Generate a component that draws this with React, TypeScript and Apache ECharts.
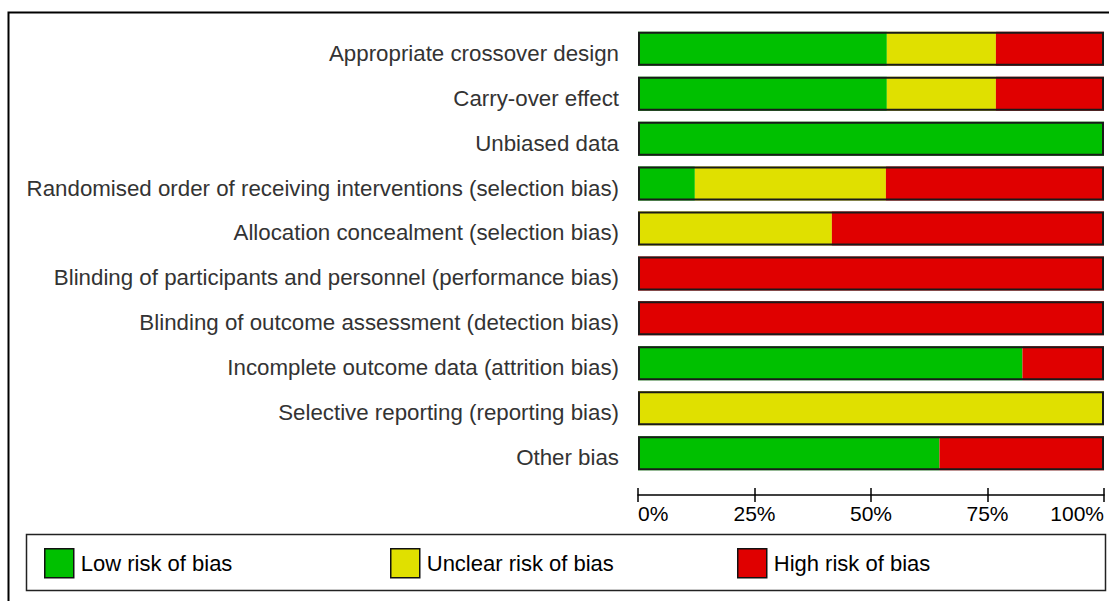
import React, { useEffect, useRef } from "react";
import * as echarts from "echarts";

const categories: string[] = [
  "Appropriate crossover design",
  "Carry-over effect",
  "Unbiased data",
  "Randomised order of receiving interventions (selection bias)",
  "Allocation concealment (selection bias)",
  "Blinding of participants and personnel (performance bias)",
  "Blinding of outcome assessment (detection bias)",
  "Incomplete outcome data (attrition bias)",
  "Selective reporting (reporting bias)",
  "Other bias",
];

const lowRisk: number[] = [53.4, 53.4, 100, 12.2, 0, 0, 0, 82.5, 0, 64.7];
const unclearRisk: number[] = [23.4, 23.4, 0, 41.0, 41.6, 0, 0, 0, 100, 0];
const highRisk: number[] = [23.2, 23.2, 0, 46.8, 58.4, 100, 100, 17.5, 0, 35.3];

const xTicks: number[] = [0, 25, 50, 75, 100];

const seriesNames = ["Low risk of bias", "Unclear risk of bias", "High risk of bias"];
const seriesColors = ["#00C000", "#E0E000", "#E00000"];

const FONT = '"Liberation Sans", Arial, sans-serif';

export default function App() {
  const ref = useRef<HTMLDivElement>(null);

  useEffect(() => {
    if (!ref.current) return;
    const chart = echarts.init(ref.current, undefined, { renderer: "svg" });
    const totals = lowRisk.map((v, i) => v + unclearRisk[i] + highRisk[i]);
    const seriesData = [lowRisk, unclearRisk, highRisk];

    const legendLefts = [44, 390, 737];

    const option: any = {
      animation: false,
      backgroundColor: "#ffffff",
      grid: { left: 638, right: 5, top: 26.3, bottom: 125.4, containLabel: false },
      xAxis: [
        {
          type: "value",
          min: xTicks[0],
          max: xTicks[xTicks.length - 1],
          interval: 25,
          position: "bottom",
          offset: 19.5,
          axisLine: { show: true, lineStyle: { color: "#000", width: 1.5 } },
          axisTick: { show: true, length: 7, lineStyle: { color: "#000", width: 1.5 } },
          axisLabel: {
            formatter: "{value}%",
            fontSize: 21,
            fontFamily: FONT,
            color: "#000",
            margin: 8,
            alignMinLabel: "left",
            alignMaxLabel: "right",
          },
          splitLine: { show: false },
        },
        {
          type: "value",
          min: xTicks[0],
          max: xTicks[xTicks.length - 1],
          interval: 25,
          position: "bottom",
          offset: 19.5,
          axisLine: { show: false },
          axisTick: { show: true, inside: true, length: 7, lineStyle: { color: "#000", width: 1.5 } },
          axisLabel: { show: false },
          splitLine: { show: false },
        },
      ],
      yAxis: {
        type: "category",
        data: categories,
        inverse: true,
        axisLine: { show: false },
        axisTick: { show: false },
        axisLabel: {
          fontSize: 22.3,
          fontFamily: FONT,
          color: "#333",
          margin: 19,
          verticalAlign: "top",
          lineHeight: 9,
        },
        splitLine: { show: false },
      },
      legend: seriesNames.map((name, i) => ({
        data: [name],
        left: legendLefts[i],
        top: 548,
        padding: 0,
        itemWidth: 29,
        itemHeight: 29,
        icon: "rect",
        itemStyle: { borderColor: "#111", borderWidth: 1.5 },
        textStyle: { fontSize: 22, fontFamily: FONT, color: "#000", padding: [0, 0, 0, 2] },
        selectedMode: false,
      })),
      graphic: [
        {
          type: "rect",
          shape: { x: 8.5, y: 12.5, width: 1200, height: 700 },
          style: { fill: "none", stroke: "#000", lineWidth: 2 },
          silent: true,
        },
        {
          type: "rect",
          shape: { x: 26.5, y: 534.5, width: 1079, height: 56 },
          style: { fill: "none", stroke: "#222", lineWidth: 1.5 },
          silent: true,
        },
      ],
      series: [
        ...seriesNames.map((name, i) => ({
          name,
          type: "bar",
          stack: "total",
          barWidth: 34,
          data: seriesData[i],
          itemStyle: { color: seriesColors[i] },
          silent: true,
        })),
        {
          name: "outline",
          type: "bar",
          barWidth: 34,
          barGap: "-100%",
          data: totals,
          z: 5,
          itemStyle: { color: "rgba(0,0,0,0)", borderColor: "#1a1a1a", borderWidth: 2 },
          silent: true,
        },
      ],
    };
    chart.setOption(option);
    return () => chart.dispose();
  }, []);

  return (
    <div
      ref={ref}
      style={{ position: "fixed", left: 0, top: 0, width: 1109, height: 601 }}
    />
  );
}
